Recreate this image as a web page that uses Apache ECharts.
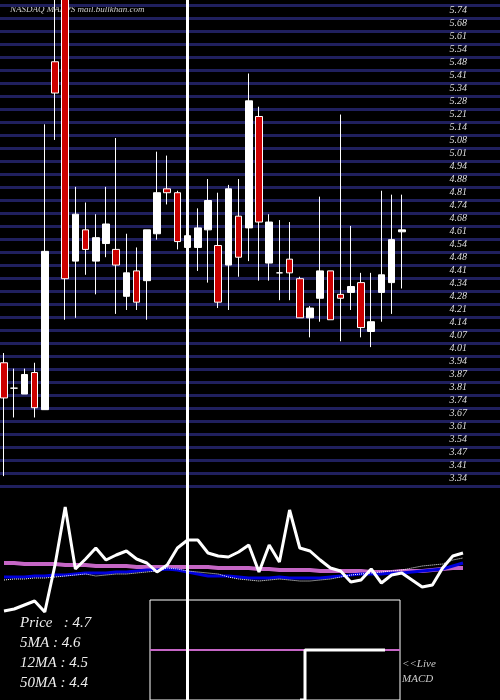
<!DOCTYPE html>
<html><head><meta charset="utf-8">
<script src="https://cdn.jsdelivr.net/npm/echarts@6/dist/echarts.min.js"></script>
<style>html,body{margin:0;padding:0;background:#000}#c{width:500px;height:700px}</style>
</head><body><div id="c"></div>
<script>
// candles: [open, close, low, high]
const candles = [
[3.93,3.75,3.35,3.98],[3.80,3.80,3.65,3.90],[3.77,3.87,3.77,3.90],[3.88,3.70,3.65,3.93],
[3.69,4.50,3.69,5.15],[5.47,5.31,5.07,5.80],[5.90,4.36,4.15,5.95],[4.45,4.69,4.16,4.83],
[4.61,4.51,4.38,4.75],[4.45,4.57,4.28,4.69],[4.54,4.64,4.47,4.83],[4.51,4.43,4.18,5.08],
[4.27,4.39,4.20,4.59],[4.40,4.24,4.20,4.52],[4.35,4.61,4.15,4.61],[4.59,4.80,4.56,5.01],
[4.82,4.80,4.74,4.99],[4.80,4.55,4.51,4.81],[4.52,4.58,4.50,4.62],[4.52,4.62,4.40,4.72],
[4.61,4.76,4.34,4.87],[4.53,4.24,4.21,4.80],[4.43,4.82,4.20,4.84],[4.68,4.47,4.37,4.87],
[4.62,5.27,4.45,5.41],[5.19,4.65,4.35,5.24],[4.44,4.65,4.35,4.69],[4.39,4.39,4.25,4.66],
[4.46,4.39,4.25,4.65],[4.36,4.16,4.16,4.37],[4.16,4.21,4.06,4.22],[4.26,4.40,4.14,4.78],
[4.40,4.15,4.15,4.40],[4.28,4.26,4.04,5.20],[4.29,4.32,4.20,4.63],[4.34,4.11,4.06,4.39],
[4.09,4.14,4.01,4.39],[4.29,4.38,4.14,4.81],[4.34,4.56,4.18,4.79],[4.60,4.61,4.31,4.79]
];
const priceTicks = ['3.34','3.41','3.47','3.54','3.61','3.67','3.74','3.81','3.87','3.94','4.01','4.07','4.14','4.21','4.28','4.34','4.41','4.48','4.54','4.61','4.68','4.74','4.81','4.88','4.94','5.01','5.08','5.14','5.21','5.28','5.34','5.41','5.48','5.54','5.61','5.68','5.74'];
const whiteLine = [89,91,95,99,88,135,193,131,141,152,140,145,149,141,137,128,135,152,160,160,147,144,143,148,155,128,155,138,190,152,149,140,132,129,118,120,131,117,125,127,120,113,115,132,144,147];
const pinkLine = [137,137,136,136,136,136,135,135,135,134,134,134,134,133,133,133,133,133,133,133,133,132,132,132,132,131,131,130,130,130,130,129,129,129,129,129,128,128,128,129,129,129,130,131,132,132];
const blueLine = [123,123,123,124,124,125,125,126,127,127,127,128,128,129,130,130,131,130,128,126,124,124,124,123,122,122,122,123,122,122,122,122,123,124,125,126,126,126,127,127,128,129,130,131,134,137];
const dotLine = [120,121,121,122,122,123,124,125,126,124,125,126,126,127,128,129,132,131,129,128,127,126,123,121,120,119,120,121,120,119,119,120,121,123,125,126,127,128,129,130,132,134,135,136,140,142];
const macdZero = new Array(51).fill(0);
const macdLine = new Array(51).fill(null).map((v,i)=> i<31 ? null : (i===31 ? -1 : (i<=47 ? 0 : null)));

const chart = echarts.init(document.getElementById('c'));
const serif = 'Liberation Serif';
chart.setOption({
  backgroundColor:'#000',
  animation:false,
  grid:[
    {left:0,right:0,top:5,height:481},
    {left:4,width:397.8,top:0,height:490},
    {left:4,width:459,top:490,height:210},
    {left:150,width:250,top:600,height:100,show:true,borderColor:'#fff',borderWidth:1,backgroundColor:'transparent'}
  ],
  xAxis:[
    {gridIndex:0,type:'value',show:false,min:0,max:1},
    {gridIndex:1,type:'category',boundaryGap:false,data:candles.map((c,i)=>i),show:false},
    {gridIndex:2,type:'category',boundaryGap:false,data:whiteLine.map((c,i)=>i),show:false},
    {gridIndex:3,type:'category',boundaryGap:false,data:macdZero.map((c,i)=>i),show:false}
  ],
  yAxis:[
    {gridIndex:0,type:'value',min:-1,max:36,interval:1,position:'right',
     axisLine:{show:false},axisTick:{show:false},
     splitLine:{show:true,lineStyle:{color:'#20205e',width:3}},
     axisLabel:{inside:true,margin:33,align:'right',verticalAlign:'top',color:'#ddd',fontFamily:serif,fontStyle:'italic',fontSize:10,
       formatter:v=>priceTicks[v]||''}},
    {gridIndex:1,type:'value',min:3.279,max:5.786,show:false},
    {gridIndex:2,type:'value',min:0,max:210,show:false},
    {gridIndex:3,type:'value',min:-1,max:1,show:false}
  ],
  series:[
    {type:'candlestick',xAxisIndex:1,yAxisIndex:1,data:candles,barWidth:7,clip:true,
     itemStyle:{color:'#fff',color0:'#cc0000',borderColor:'#fff',borderColor0:'#fff',borderWidth:1},
     markLine:{symbol:'none',silent:true,label:{show:false},lineStyle:{color:'#fff',width:3,type:'solid'},data:[{xAxis:18}]}},
    {type:'line',xAxisIndex:2,yAxisIndex:2,data:pinkLine,symbol:'none',lineStyle:{color:'#c566c5',width:4}},
    {type:'line',xAxisIndex:2,yAxisIndex:2,data:blueLine,symbol:'none',lineStyle:{color:'#0000dd',width:3}},
    {type:'line',xAxisIndex:2,yAxisIndex:2,data:dotLine,symbol:'none',lineStyle:{color:'#fff',width:1,type:'dotted'}},
    {type:'line',xAxisIndex:2,yAxisIndex:2,data:whiteLine,symbol:'none',lineStyle:{color:'#fff',width:3},
     markLine:{symbol:'none',silent:true,label:{show:false},lineStyle:{color:'#fff',width:3,type:'solid'},data:[{xAxis:18}]}},
    {type:'line',xAxisIndex:3,yAxisIndex:3,data:macdZero,symbol:'none',lineStyle:{color:'#c566c5',width:2}},
    {type:'line',xAxisIndex:3,yAxisIndex:3,data:macdLine,symbol:'none',step:'start',lineStyle:{color:'#fff',width:3}}
  ],
  graphic:[
    {type:'text',left:10,top:5,style:{text:'NASDAQ MARPS mail.bullkhan.com',fill:'#ccc',font:'italic 9px "Liberation Serif"'}},
    {type:'text',left:20,top:616,style:{text:'Price   : 4.7',fill:'#eee',font:'italic 15px "Liberation Serif"'}},
    {type:'text',left:20,top:636,style:{text:'5MA : 4.6',fill:'#eee',font:'italic 15px "Liberation Serif"'}},
    {type:'text',left:20,top:656,style:{text:'12MA : 4.5',fill:'#eee',font:'italic 15px "Liberation Serif"'}},
    {type:'text',left:20,top:676,style:{text:'50MA : 4.4',fill:'#eee',font:'italic 15px "Liberation Serif"'}},
    {type:'text',left:402,top:659,style:{text:'<<Live',fill:'#ccc',font:'italic 11px "Liberation Serif"'}},
    {type:'text',left:402,top:674,style:{text:'MACD',fill:'#ccc',font:'italic 11px "Liberation Serif"'}}
  ]
});
</script></body></html>
